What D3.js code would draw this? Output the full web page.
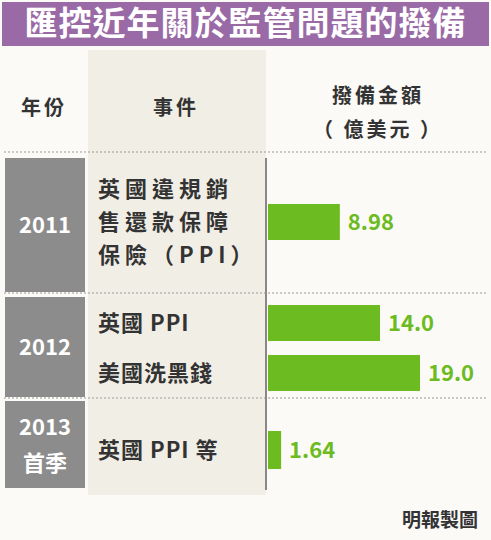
<!DOCTYPE html><html><head><meta charset="utf-8"><script src="https://d3js.org/d3.v7.min.js"></script>
<style>body{margin:0;background:#fff}</style></head><body><script>
const years=["2011","2012","2013\n首季"];
const events=[["英國違規銷","售還款保障","保險（PPI）"],["英國 PPI"],["美國洗黑錢"],["英國 PPI 等"]];
const eventYear=[0,1,1,2];
const values=[8.98,14.0,19.0,1.64];
const labels=["8.98","14.0","19.0","1.64"];
const W=491,H=540,F='"Noto Sans CJK TC",sans-serif';
const svg=d3.select("body").append("svg").attr("width",W).attr("height",H).style("font-family",F);
svg.append("rect").attr("width",W).attr("height",H).attr("fill","#fbfaf7");
svg.append("rect").attr("x",2).attr("y",2).attr("width",W-4).attr("height",44).attr("fill","#9a6aa6");
svg.append("text").attr("x",W/2).attr("y",35).attr("text-anchor","middle").attr("fill","#fff").attr("font-size",33).attr("font-weight","bold").attr("letter-spacing",1).text("匯控近年關於監管問題的撥備");
svg.append("rect").attr("x",88).attr("y",50).attr("width",178).attr("height",445).attr("fill","#f1eee6");
const hd=svg.append("g").attr("fill","#333").attr("font-size",20).attr("font-weight","bold");
hd.append("text").attr("x",44).attr("y",115).attr("text-anchor","middle").attr("letter-spacing",3).text("年份");
hd.append("text").attr("x",176).attr("y",115).attr("text-anchor","middle").attr("letter-spacing",3).text("事件");
hd.append("text").attr("x",378).attr("y",103).attr("text-anchor","middle").attr("letter-spacing",3).text("撥備金額");
hd.append("text").attr("x",378).attr("y",137).attr("text-anchor","middle").attr("letter-spacing",3).text("（ 億美元 ）");
const dash=y=>svg.append("line").attr("x1",4).attr("x2",W-4).attr("y1",y).attr("y2",y).attr("stroke","#999").attr("stroke-dasharray","2,2");
[152,293,398].forEach(dash);
svg.append("line").attr("x1",266).attr("x2",266).attr("y1",158).attr("y2",490).attr("stroke","#888").attr("stroke-width",2);
const yb=[[158,292],[297,397],[401,488]];
yb.forEach((b,i)=>{svg.append("rect").attr("x",5).attr("y",b[0]).attr("width",80).attr("height",b[1]-b[0]).attr("fill","#8c8c8c");
 const ls=years[i].split("\n");ls.forEach((l,j)=>svg.append("text").attr("x",45).attr("y",(b[0]+b[1])/2+8+(j-(ls.length-1)/2)*36).attr("text-anchor","middle").attr("fill","#fff").attr("font-size",22).attr("font-weight","bold").text(l));});
const x=d3.scaleLinear().domain([0,19]).range([268,420]);
const cy=[222,323,373,450],bh=[36,36,36,38];
events.forEach((ev,i)=>ev.forEach((t,j)=>svg.append("text").attr("x",98).attr("y",cy[i]+8+(j-(ev.length-1)/2)*33).attr("fill","#333").attr("font-size",22).attr("font-weight","bold").attr("letter-spacing",i==0?5:1).text(t)));
values.forEach((v,i)=>{svg.append("rect").attr("x",x(0)).attr("y",cy[i]-bh[i]/2).attr("width",x(v)-x(0)).attr("height",bh[i]).attr("fill","#6cbb21");
 svg.append("text").attr("x",x(v)+8).attr("y",cy[i]+8).attr("fill","#6cbb21").attr("font-size",22).attr("font-weight","bold").text(labels[i]);});
svg.append("text").attr("x",478).attr("y",527).attr("text-anchor","end").attr("fill","#333").attr("font-size",19).attr("font-weight","bold").text("明報製圖");
</script></body></html>
